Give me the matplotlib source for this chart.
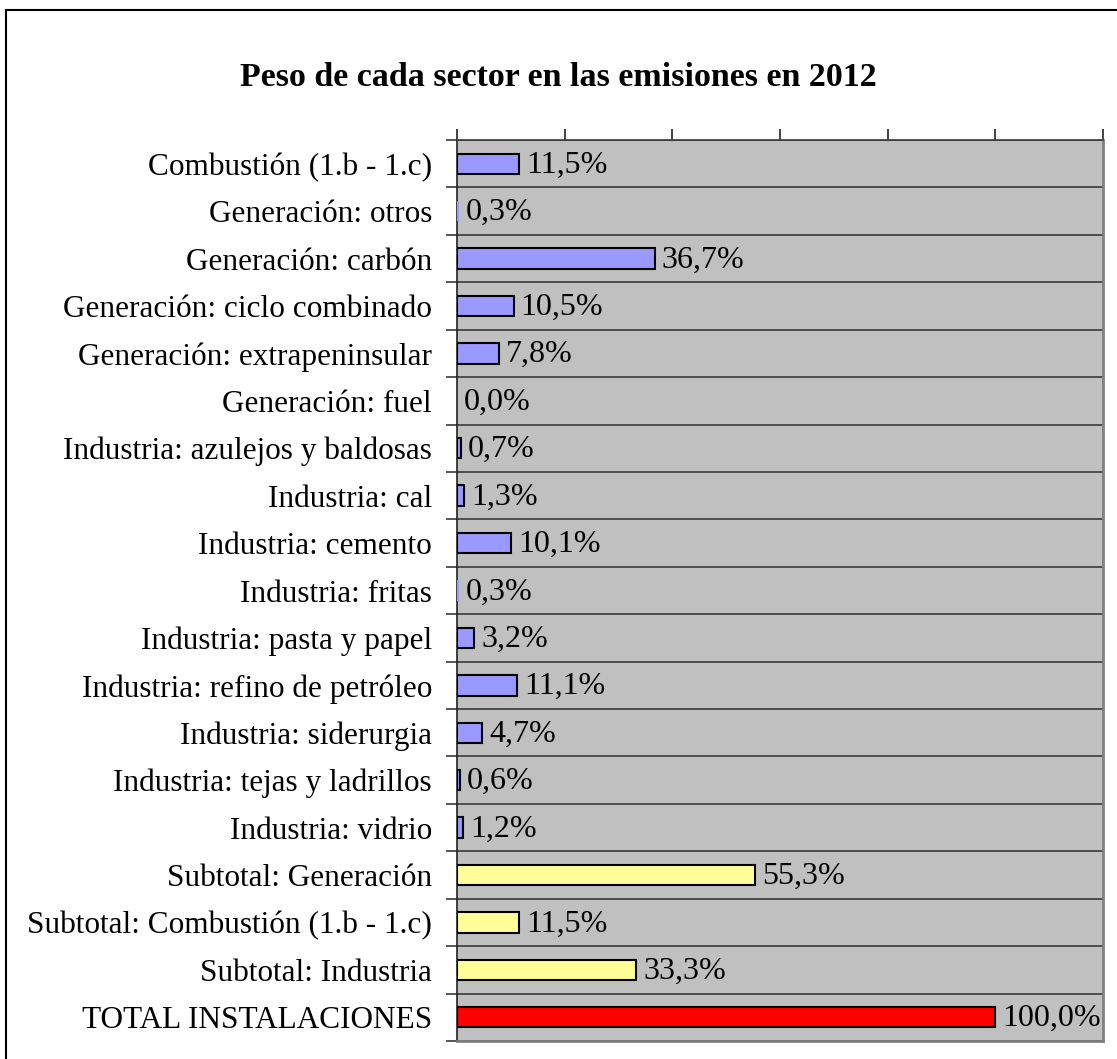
import numpy as np
import matplotlib.pyplot as plt
from matplotlib.patches import Rectangle

plt.rcParams['font.family'] = ['Liberation Serif', 'DejaVu Serif']

sectores = ['Combustión (1.b - 1.c)', 'Generación: otros', 'Generación: carbón',
            'Generación: ciclo combinado', 'Generación: extrapeninsular',
            'Generación: fuel', 'Industria: azulejos y baldosas', 'Industria: cal',
            'Industria: cemento', 'Industria: fritas', 'Industria: pasta y papel',
            'Industria: refino de petróleo', 'Industria: siderurgia',
            'Industria: tejas y ladrillos', 'Industria: vidrio',
            'Subtotal: Generación', 'Subtotal: Combustión (1.b - 1.c)',
            'Subtotal: Industria', 'TOTAL INSTALACIONES']
pesos = [11.5, 0.3, 36.7, 10.5, 7.8, 0.0, 0.7, 1.3, 10.1, 0.3, 3.2, 11.1,
         4.7, 0.6, 1.2, 55.3, 11.5, 33.3, 100.0]
tipo = ['s'] * 15 + ['sub'] * 3 + ['tot']

colores = {'s': '#9999FF', 'sub': '#FFFF99', 'tot': '#FF0000'}

fig = plt.figure(figsize=(11.17, 10.59), dpi=100)
# plot area in pixel coords: x 457-1103, y 140-1041
ax = fig.add_axes([457 / 1117, 1 - 1041 / 1059, 646 / 1117, 901 / 1059])
ax.set_facecolor('#C0C0C0')

n = len(sectores)
y = np.arange(n)
# very small bars are not visible in the original
lws = [1.5 if v >= 0.5 else 0 for v in pesos]
ax.barh(y, pesos, height=0.43, color=[colores[t] for t in tipo],
        edgecolor='black', linewidth=lws, zorder=3)

for yi, v in zip(y, pesos):
    ax.text(v + 1.3, yi + 0.03, ('%.1f%%' % v).replace('.', ','), va='center',
            ha='left', fontsize=23, zorder=4)

ax.set_xlim(0, 120)
ax.set_ylim(n - 0.5, -0.5)

# category separators
for b in np.arange(-0.5, n, 1.0):
    ax.axhline(b, color='#3a3a3a', lw=1.2, zorder=2)

ax.set_yticks(y)
ax.set_yticklabels(sectores, fontsize=22.5)
ax.set_yticks(np.arange(-0.5, n, 1.0), minor=True)
ax.tick_params(axis='y', which='major', length=0, pad=18)
ax.tick_params(axis='y', which='minor', length=8, width=1.2, color='#3a3a3a')

ax.xaxis.tick_top()
ax.set_xticks(np.arange(0, 121, 20))
ax.set_xticklabels([])
ax.tick_params(axis='x', length=8, width=1.2, color='#222222')

ax.spines['left'].set_color('#222222')
ax.spines['left'].set_linewidth(1.2)
ax.spines['top'].set_color('#3a3a3a')
ax.spines['top'].set_linewidth(1.2)
ax.spines['right'].set_color('#808080')
ax.spines['right'].set_linewidth(2)
ax.spines['bottom'].set_color('#808080')
ax.spines['bottom'].set_linewidth(2)

fig.text(0.5, 1 - 78 / 1059, 'Peso de cada sector en las emisiones en 2012',
         ha='center', va='center', fontsize=24.5, fontweight='bold')

# border around the chart (cut at right and bottom)
fig.patches.append(Rectangle((6 / 1117, -0.05), 1.2, 1 - 10 / 1059 + 0.05,
                             transform=fig.transFigure, fill=False,
                             edgecolor='black', lw=1.5))

plt.savefig('out.png', dpi=100)
